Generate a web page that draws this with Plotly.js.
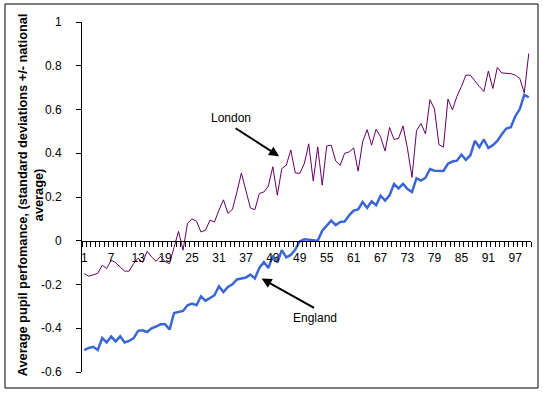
<!DOCTYPE html>
<html>
<head>
<meta charset="utf-8">
<script src="https://cdn.plot.ly/plotly-3.0.1.min.js"></script>
<style>html,body{margin:0;padding:0;background:#fff;} #chart{width:543px;height:393px;}</style>
</head>
<body>
<div id="chart"></div>
<script>
// Categories 1..100
const categories = [];
for (let i = 1; i <= 100; i++) categories.push(i);

const londonValues = [
 -0.150,-0.162,-0.156,-0.149,-0.112,-0.127,-0.089,-0.100,-0.120,-0.139,
 -0.139,-0.104,-0.079,-0.100,-0.048,-0.074,-0.094,-0.071,-0.095,-0.105,
 -0.030,0.043,-0.043,0.080,0.100,0.089,0.040,0.048,0.094,0.086,
 0.140,0.187,0.125,0.143,0.223,0.310,0.230,0.150,0.142,0.216,
 0.223,0.250,0.338,0.208,0.330,0.345,0.415,0.310,0.308,0.352,
 0.443,0.273,0.429,0.254,0.433,0.437,0.365,0.345,0.400,0.406,
 0.424,0.318,0.452,0.508,0.437,0.510,0.475,0.410,0.518,0.463,
 0.468,0.525,0.420,0.290,0.503,0.536,0.488,0.645,0.602,0.439,
 0.428,0.648,0.598,0.660,0.705,0.757,0.757,0.730,0.705,0.682,
 0.776,0.696,0.792,0.767,0.765,0.764,0.757,0.742,0.676,0.856
];

const englandValues = [
 -0.500,-0.490,-0.485,-0.500,-0.445,-0.465,-0.438,-0.460,-0.437,-0.465,
 -0.458,-0.445,-0.412,-0.409,-0.417,-0.400,-0.392,-0.382,-0.382,-0.406,
 -0.330,-0.325,-0.321,-0.295,-0.287,-0.295,-0.254,-0.275,-0.260,-0.249,
 -0.208,-0.234,-0.211,-0.199,-0.177,-0.172,-0.168,-0.155,-0.172,-0.124,
 -0.097,-0.125,-0.068,-0.100,-0.043,-0.076,-0.065,-0.040,-0.003,0.007,
 0.005,0.005,0.000,0.046,0.071,0.092,0.071,0.086,0.088,0.116,
 0.138,0.143,0.177,0.150,0.180,0.162,0.206,0.184,0.208,0.260,
 0.239,0.260,0.236,0.223,0.286,0.275,0.288,0.328,0.320,0.321,
 0.319,0.352,0.362,0.366,0.393,0.370,0.391,0.457,0.428,0.463,
 0.424,0.437,0.456,0.487,0.513,0.519,0.569,0.602,0.667,0.656
];

const xTickVals = [1,7,13,19,25,31,37,43,49,55,61,67,73,79,85,91,97];
const xTickText = xTickVals.map(String);
const yTickVals = [-0.6,-0.4,-0.2,0,0.2,0.4,0.6,0.8,1];
const yTickText = ['-0.6','-0.4','-0.2','0','0.2','0.4','0.6','0.8','1'];

const FONT = 'Liberation Sans, Arial, sans-serif';

const traces = [
  {x: categories, y: londonValues, type: 'scatter', mode: 'lines', name: 'London',
   line: {color: '#660066', width: 1}},
  {x: categories, y: englandValues, type: 'scatter', mode: 'lines', name: 'England',
   line: {color: '#3B66D6', width: 2.5}}
];

const layout = {
  width: 543, height: 393,
  margin: {l: 82, r: 12, t: 22, b: 21, pad: 0},
  paper_bgcolor: '#fff', plot_bgcolor: '#fff',
  showlegend: false,
  font: {family: FONT, size: 12, color: '#000'},
  xaxis: {
    range: [0.5, 100.5], anchor: 'free', position: 0.375,
    showgrid: false, zeroline: false,
    showline: true, linecolor: '#000', linewidth: 1,
    tickmode: 'array', tickvals: xTickVals, ticktext: xTickText,
    ticks: 'outside', ticklen: 5, tickcolor: 'rgba(0,0,0,0)',
    ticklabelstandoff: 1,
    minor: {tick0: 0.5, dtick: 1, ticks: 'outside', ticklen: 5, tickcolor: '#000', tickwidth: 1, showgrid: false},
    tickfont: {family: FONT, size: 12, color: '#000'}
  },
  yaxis: {
    range: [-0.6, 1], showgrid: false, zeroline: false,
    showline: true, linecolor: '#000', linewidth: 1,
    tickmode: 'array', tickvals: yTickVals, ticktext: yTickText,
    ticks: 'outside', ticklen: 5, tickcolor: '#000',
    ticklabelstandoff: 12,
    tickfont: {family: FONT, size: 12, color: '#000'}
  },
  shapes: [
    {type: 'rect', xref: 'paper', yref: 'paper',
     x0: -0.1715, x1: 1.0156, y0: -0.0457, y1: 1.0514,
     line: {color: '#000', width: 1}, fillcolor: 'rgba(0,0,0,0)'}
  ],
  annotations: [
    {xref: 'paper', yref: 'paper', x: -0.1135, y: 0.505, xanchor: 'center', yanchor: 'middle',
     textangle: -90, showarrow: false,
     text: '<b>Average pupil perfomance, (standard deviations +/- national<br>average)</b>',
     font: {family: FONT, size: 12.75, color: '#000'}},
    {x: 33.7, y: 0.56, xref: 'x', yref: 'y', text: 'London', showarrow: false,
     font: {family: FONT, size: 12, color: '#000'}},
    {x: 44.4, y: 0.386, xref: 'x', yref: 'y', text: '', showarrow: true,
     ax: -45, ay: -29, arrowhead: 2, arrowsize: 1, arrowwidth: 2, arrowcolor: '#000', standoff: 0, startstandoff: 0},
    {x: 52.3, y: -0.354, xref: 'x', yref: 'y', text: 'England', showarrow: false,
     font: {family: FONT, size: 12, color: '#000'}},
    {x: 40.5, y: -0.173, xref: 'x', yref: 'y', text: '', showarrow: true,
     ax: 54, ay: 30, arrowhead: 2, arrowsize: 1, arrowwidth: 2, arrowcolor: '#000', standoff: 0, startstandoff: 0}
  ]
};

Plotly.newPlot('chart', traces, layout, {staticPlot: true, displayModeBar: false});
</script>
</body>
</html>
